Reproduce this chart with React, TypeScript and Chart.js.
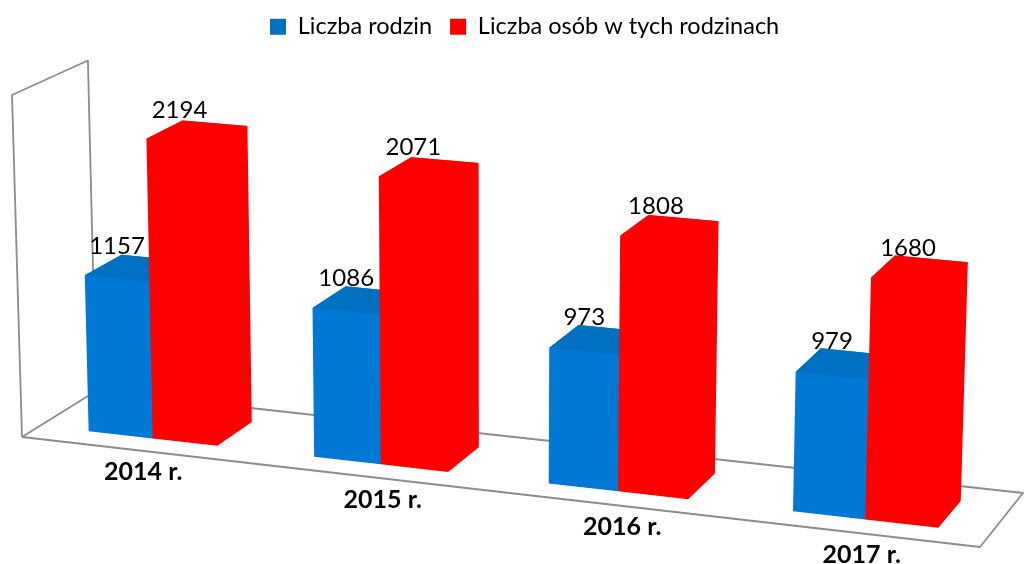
import React, { useEffect, useRef } from "react";
import { Chart, registerables } from "chart.js";

Chart.register(...registerables);

const categories = ["2014 r.", "2015 r.", "2016 r.", "2017 r."];
const families = [1157, 1086, 973, 979];
const people = [2194, 2071, 1808, 1680];
const seriesNames = ["Liczba rodzin", "Liczba osób w tych rodzinach"];
const axisMax = 2500;

// Perspective frame of the 3D box (layout, not data)
const P00 = [22, 437];
const P10 = [980, 547];
const P01 = [96, 391];
const P11 = [1023, 493];
const TOP0 = [12, 95];
const VERTICAL_WEIGHT = 0.979;
const DEPTH_FRONT = 0.24;
const DEPTH_BACK = 0.74;
const BAR_SHIFT = 0.002;

function makeProjection() {
  const a1 = P10[0] - P11[0], b1 = P01[0] - P11[0], c1 = P00[0] - P11[0];
  const a2 = P10[1] - P11[1], b2 = P01[1] - P11[1], c2 = P00[1] - P11[1];
  const det = a1 * b2 - a2 * b1;
  const alpha = (c1 * b2 - c2 * b1) / det;
  const beta = (a1 * c2 - a2 * c1) / det;
  const delta = VERTICAL_WEIGHT;
  const h3 = (p: number[]) => [p[0], p[1], 1];
  const c0 = h3(P00);
  const cu = h3(P10).map((v, i) => alpha * v - c0[i]);
  const cw = h3(P01).map((v, i) => beta * v - c0[i]);
  const ch = h3(TOP0).map((v, i) => delta * v - c0[i]);
  return (u: number, h: number, w: number): [number, number] => {
    const r = [0, 1, 2].map((i) => c0[i] + u * cu[i] + h * ch[i] + w * cw[i]);
    return [r[0] / r[2], r[1] / r[2]];
  };
}
const project = makeProjection();

const face = (ctx: CanvasRenderingContext2D, pts: [number, number][], fill: string) => {
  ctx.beginPath();
  pts.forEach((p, i) => (i ? ctx.lineTo(p[0], p[1]) : ctx.moveTo(p[0], p[1])));
  ctx.closePath();
  ctx.fillStyle = fill;
  ctx.fill();
};

const polyline = (ctx: CanvasRenderingContext2D, pts: [number, number][]) => {
  ctx.beginPath();
  pts.forEach((p, i) => (i ? ctx.lineTo(p[0], p[1]) : ctx.moveTo(p[0], p[1])));
  ctx.stroke();
};

const frontColors = ["#0078D4", "#FF0000"];
const topColors = ["#0070C0", "#FF0000"];

const box3d = {
  id: "box3d",
  beforeDatasetsDraw(chart: any) {
    const { ctx, chartArea } = chart;
    const { left, right, top, bottom } = chartArea;
    const toU = (px: number) => (px - left) / (right - left);
    const toH = (py: number) => (bottom - py) / (bottom - top);

    ctx.save();
    ctx.strokeStyle = "#8C8C8C";
    ctx.lineWidth = 1.8;
    ctx.lineJoin = "round";
    polyline(ctx, [project(0, 0, 0), project(0, 1, 0), project(0, 1, 1), project(0, 0, 1), project(0, 0, 0)]);
    polyline(ctx, [project(0, 0, 1), project(1, 0, 1), project(1, 0, 0), project(0, 0, 0)]);

    const labelsToDraw: { t: string; x: number; y: number }[] = [];
    categories.forEach((_, i) => {
      chart.data.datasets.forEach((ds: any, d: number) => {
        const el = chart.getDatasetMeta(d).data[i];
        const u1 = toU(el.x - el.width / 2) + BAR_SHIFT;
        const u2 = toU(el.x + el.width / 2) + BAR_SHIFT;
        const h = toH(el.y);
        const h0 = toH(el.base);
        const w1 = DEPTH_FRONT;
        const w2 = DEPTH_BACK;
        face(
          ctx,
          [
            project(u1, h0, w1),
            project(u2, h0, w1),
            project(u2, h0, w2),
            project(u2, h, w2),
            project(u1, h, w2),
            project(u1, h, w1),
          ],
          frontColors[d],
        );
        face(ctx, [project(u1, h, w1), project(u1, h, w2), project(u2, h, w2), project(u2, h, w1)], topColors[d]);
        const c = project((u1 + u2) / 2, h, (w1 + w2) / 2);
        labelsToDraw.push({ t: String(ds.data[i]), x: c[0] - 19 + 8 * toU(el.x), y: c[1] - 22 });
      });
    });

    ctx.fillStyle = "#000000";
    ctx.textAlign = "center";
    ctx.textBaseline = "middle";
    ctx.font = "24px Lato";
    labelsToDraw.forEach((l) => ctx.fillText(l.t, l.x, l.y));

    ctx.font = "bold 25px Lato";
    categories.forEach((c, i) => {
      const a = chart.getDatasetMeta(0).data[i];
      const b = chart.getDatasetMeta(1).data[i];
      const u = toU((a.x + b.x) / 2);
      const x = P00[0] + (P10[0] - P00[0]) * u;
      const y = P00[1] + (P10[1] - P00[1]) * u;
      ctx.fillText(c, x + 1.5, y + 21.5);
    });
    ctx.restore();
    return false;
  },
};

export default function App() {
  const ref = useRef<HTMLCanvasElement | null>(null);
  useEffect(() => {
    const chart = new Chart(ref.current as HTMLCanvasElement, {
      type: "bar",
      data: {
        labels: categories,
        datasets: [
          { label: seriesNames[0], data: families, backgroundColor: "#0070C0", borderWidth: 0 },
          { label: seriesNames[1], data: people, backgroundColor: "#FF0000", borderWidth: 0 },
        ],
      },
      options: {
        responsive: false,
        animation: false,
        maintainAspectRatio: false,
        layout: { padding: { left: 252, top: -3 } },
        datasets: { bar: { categoryPercentage: 0.576, barPercentage: 1 } },
        scales: {
          x: { display: false },
          y: { display: false, min: 0, max: axisMax },
        },
        plugins: {
          tooltip: { enabled: false },
          legend: {
            position: "top",
            align: "start",
            labels: {
              boxWidth: 16,
              boxHeight: 16,
              padding: 18,
              color: "#000000",
              font: { family: "Lato", size: 23.5 },
            },
          },
        },
      },
      plugins: [box3d],
    } as any);
    return () => chart.destroy();
  }, []);
  return (
    <div style={{ position: "fixed", left: 0, top: 0, width: 1025, height: 564, background: "#fff" }}>
      <canvas ref={ref} width={1025} height={564} style={{ display: "block" }} />
    </div>
  );
}
